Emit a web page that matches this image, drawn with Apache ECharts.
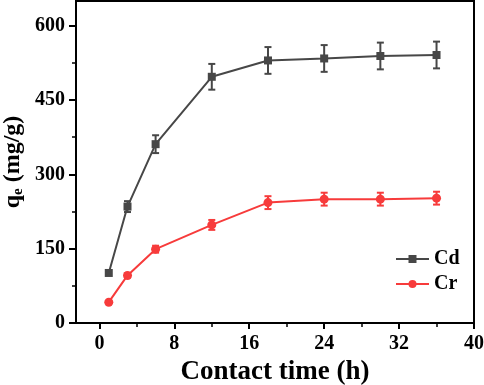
<!DOCTYPE html>
<html>
<head>
<meta charset="utf-8">
<script src="https://cdn.jsdelivr.net/npm/echarts@6/dist/echarts.min.js"></script>
<style>
  html, body { margin: 0; padding: 0; background: #fff; }
  #chart { width: 484px; height: 385px; }
</style>
</head>
<body>
<div id="chart"></div>
<script>
// contact time (h)
var times = [1, 3, 6, 12, 18, 24, 30, 36];
// qe values (mg/g)
var cdValues = [101, 235, 361, 497, 530, 534, 539, 541];
var crValues = [42, 96, 149, 198, 243, 250, 250, 252];
// error bar half-heights
var cdErrors = [0, 11, 18, 26, 27, 27, 27, 27];
var crErrors = [0, 4, 7, 10, 13, 13, 13, 13];

var xTicks = [0, 8, 16, 24, 32, 40];
var xMinorTicks = [4, 12, 20, 28, 36];
var yTicks = [0, 150, 300, 450, 600];
var yMinorTicks = [75, 225, 375, 525];

var font = '"Liberation Serif", "Times New Roman", serif';
var cdColor = '#474747';
var crColor = '#f73b3b';

var pairs = function (vals) {
    return times.map(function (t, i) { return [t, vals[i]]; });
};
var errRows = function (vals, errs) {
    return times.map(function (t, i) { return [t, vals[i] - errs[i], vals[i] + errs[i]]; });
};

var errorBar = function (color) {
    return function (params, api) {
        if (api.value(2) - api.value(1) <= 0) return;
        var lo = api.coord([api.value(0), api.value(1)]);
        var hi = api.coord([api.value(0), api.value(2)]);
        var w = 3.5;
        var st = { stroke: color, lineWidth: 2 };
        return {
            type: 'group',
            children: [
                { type: 'line', shape: { x1: hi[0], y1: hi[1], x2: lo[0], y2: lo[1] }, style: st },
                { type: 'line', shape: { x1: hi[0] - w, y1: hi[1], x2: hi[0] + w, y2: hi[1] }, style: st },
                { type: 'line', shape: { x1: lo[0] - w, y1: lo[1], x2: lo[0] + w, y2: lo[1] }, style: st }
            ]
        };
    };
};

var chart = echarts.init(document.getElementById('chart'));
var option = {
    animation: false,
    grid: {
        left: 76, right: 10, top: 1, bottom: 62,
        outerBoundsMode: 'none',
        show: true, borderColor: '#000', borderWidth: 2
    },
    legend: {
        left: 390, top: 244,
        orient: 'vertical',
        itemWidth: 33, itemHeight: 10, itemGap: 5,
        data: ['Cd', 'Cr'],
        textStyle: { fontFamily: font, fontWeight: 'bold', fontSize: 20, color: '#000' }
    },
    xAxis: [{
        type: 'value', min: -2.5, max: 40,
        name: 'Contact time (h)', nameLocation: 'middle', nameGap: 36,
        nameMoveOverlap: false,
        nameTextStyle: { fontFamily: font, fontWeight: 'bold', fontSize: 27, color: '#000' },
        axisLine: { onZero: false, lineStyle: { color: '#000', width: 2 } },
        axisTick: { customValues: xTicks, length: 6, lineStyle: { color: '#000', width: 2 } },
        axisLabel: { customValues: xTicks, margin: 11, fontFamily: font, fontWeight: 'bold', fontSize: 20, color: '#000' },
        splitLine: { show: false }
    }, {
        type: 'value', min: -2.5, max: 40, position: 'bottom',
        axisLine: { show: false, onZero: false },
        axisTick: { customValues: xMinorTicks, length: 4, lineStyle: { color: '#000', width: 1.5 } },
        axisLabel: { show: false },
        splitLine: { show: false }
    }],
    yAxis: [{
        type: 'value', min: 0, max: 650,
        name: '{a|q}{b|e}{a| (mg/g)}', nameLocation: 'middle', nameRotate: 90, nameGap: 50,
        nameMoveOverlap: false,
        nameTextStyle: {
            rich: {
                a: { fontFamily: font, fontWeight: 'bold', fontSize: 24, color: '#000' },
                b: { fontFamily: font, fontWeight: 'bold', fontSize: 15, color: '#000', padding: [12, 0, 0, 0] }
            }
        },
        axisLine: { onZero: false, lineStyle: { color: '#000', width: 2 } },
        axisTick: { customValues: yTicks, length: 7, lineStyle: { color: '#000', width: 2 } },
        axisLabel: { customValues: yTicks, margin: 11, fontFamily: font, fontWeight: 'bold', fontSize: 20, color: '#000' },
        splitLine: { show: false }
    }, {
        type: 'value', min: 0, max: 650, position: 'left',
        axisLine: { show: false, onZero: false },
        axisTick: { customValues: yMinorTicks, length: 4, lineStyle: { color: '#000', width: 1.5 } },
        axisLabel: { show: false },
        splitLine: { show: false }
    }],
    series: [
        {
            name: 'Cd', type: 'line', data: pairs(cdValues),
            symbol: 'rect', symbolSize: 8,
            itemStyle: { color: cdColor },
            lineStyle: { color: cdColor, width: 2 },
            z: 3
        },
        {
            name: 'Cr', type: 'line', data: pairs(crValues),
            symbol: 'circle', symbolSize: 9,
            itemStyle: { color: crColor },
            lineStyle: { color: crColor, width: 2 },
            z: 3
        },
        {
            type: 'custom', data: errRows(cdValues, cdErrors),
            renderItem: errorBar(cdColor), z: 2
        },
        {
            type: 'custom', data: errRows(crValues, crErrors),
            renderItem: errorBar(crColor), z: 2
        }
    ]
};
chart.setOption(option);
</script>
</body>
</html>
